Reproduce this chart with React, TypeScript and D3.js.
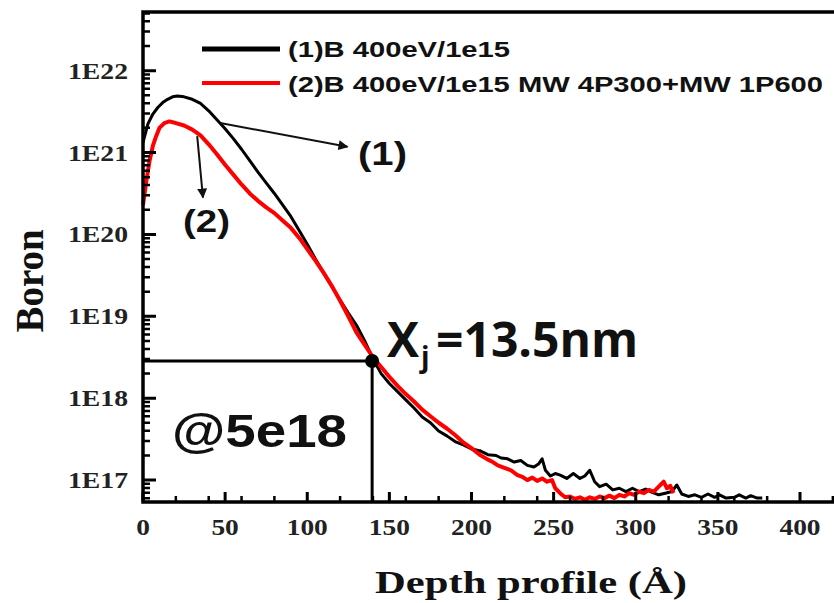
import React from "react";
import { scaleLinear, scaleLog, line } from "d3";

// depth (Å), log10 boron concentration
const blackProfile: [number, number][] = [
  [0, 21.12], [3, 21.35], [6, 21.47], [9, 21.55], [12, 21.61], [15, 21.65], [18, 21.68], [21, 21.69],
  [25, 21.68], [30, 21.65], [35, 21.6], [40, 21.51], [45, 21.4], [50, 21.29], [55, 21.17], [60, 21.04],
  [65, 20.9], [70, 20.76], [75, 20.63], [80, 20.5], [85, 20.36], [90, 20.22], [95, 20.05], [100, 19.88],
  [105, 19.7], [110, 19.53], [115, 19.36], [120, 19.2], [125, 19.04], [130, 18.89], [135, 18.7], [140, 18.48],
  [145, 18.3], [150, 18.18], [155, 18.08], [160, 17.98], [165, 17.88], [170, 17.77], [175, 17.7], [180, 17.6],
  [185, 17.54], [190, 17.47], [195, 17.43], [200, 17.38], [205, 17.36], [210, 17.31], [215, 17.3], [218, 17.27],
  [222, 17.26], [226, 17.22], [230, 17.24], [234, 17.18], [238, 17.16], [241, 17.2], [243, 17.26], [245, 17.12],
  [248, 17.05], [251, 17.08], [254, 17.06], [258, 17.02], [262, 17.08], [266, 17.02], [269, 17.05], [272, 17.12],
  [275, 16.98], [278, 16.92], [282, 16.95], [286, 16.88], [290, 16.9], [294, 16.86], [298, 16.9], [302, 16.86],
  [306, 16.89], [310, 16.85], [314, 16.82], [318, 16.84], [322, 16.86], [325, 16.94], [328, 16.83], [332, 16.8],
  [336, 16.82], [340, 16.79], [344, 16.83], [348, 16.79], [351, 16.82], [355, 16.78], [360, 16.79], [363, 16.82],
  [367, 16.78], [370, 16.81], [374, 16.78], [377, 16.78],
];

const redProfile: [number, number][] = [
  [0, 20.36], [2, 20.65], [4, 20.9], [6, 21.08], [8, 21.2], [10, 21.3], [13, 21.36], [16, 21.38],
  [20, 21.36], [25, 21.33], [30, 21.28], [35, 21.21], [40, 21.1], [45, 20.98], [50, 20.85], [55, 20.73],
  [60, 20.61], [65, 20.5], [70, 20.41], [75, 20.33], [80, 20.26], [85, 20.17], [90, 20.08], [95, 19.96],
  [100, 19.82], [105, 19.68], [110, 19.53], [115, 19.37], [120, 19.19], [125, 19.0], [130, 18.8], [135, 18.65],
  [140, 18.5], [145, 18.38], [150, 18.26], [155, 18.15], [160, 18.05], [165, 17.96], [170, 17.86], [175, 17.78],
  [180, 17.7], [185, 17.63], [190, 17.55], [195, 17.46], [200, 17.39], [205, 17.31], [210, 17.25], [213, 17.22],
  [216, 17.18], [220, 17.15], [224, 17.12], [228, 17.06], [231, 17.04], [234, 17.0], [237, 17.03], [240, 16.99],
  [243, 17.02], [246, 16.98], [249, 17.0], [251, 16.9], [254, 16.84], [257, 16.79], [260, 16.8], [263, 16.77],
  [266, 16.79], [269, 16.76], [272, 16.79], [275, 16.77], [278, 16.8], [281, 16.78], [284, 16.81], [287, 16.78],
  [290, 16.82], [293, 16.8], [296, 16.84], [299, 16.82], [302, 16.86], [305, 16.84], [308, 16.88], [311, 16.86],
  [314, 16.92], [317, 16.98], [319, 16.9], [321, 16.93], [323, 16.84],
];

const legendLabels = ["(1)B 400eV/1e15", "(2)B 400eV/1e15 MW 4P300+MW 1P600"];
const xTickValues = [0, 50, 100, 150, 200, 250, 300, 350, 400];
const yTickExps = [17, 18, 19, 20, 21, 22];

// junction depth marker
const junctionDepth = 139.5;
const junctionConc = 2.85e18;

const W = 834;
const H = 603;

const serif = "'Liberation Serif', 'Times New Roman', serif";
const sans = "'Liberation Sans', Arial, sans-serif";
const calib = "'Open Sans', sans-serif";

export default function App() {
  const x = scaleLinear().domain([0, 425]).range([143, 143 + 425 * 1.6425]);
  const y = scaleLog().domain([5.4e16, 5.2e22]).range([502, 12]);

  const path = line<[number, number]>()
    .x((d) => x(d[0]))
    .y((d) => y(Math.pow(10, d[1])));

  const left = x(0);
  const bottom = y.range()[0];
  const top = y.range()[1];

  const yAll = y.ticks();
  const isMajor = (v: number) => Math.abs(Math.log10(v) - Math.round(Math.log10(v))) < 1e-6;
  const xMinor = x.ticks(17).filter((v) => v % 50 !== 0);

  // tick marks as single paths, pointing inward
  const yMajorPath = yAll.filter(isMajor).map((v) => `M${left},${y(v)}h13`).join("");
  const yMinorPath = yAll.filter((v) => !isMajor(v)).map((v) => `M${left},${y(v)}h7`).join("");
  const xMajorPath = xTickValues.map((v) => `M${x(v)},${bottom}v-10`).join("");
  const xMinorPath = xMinor.map((v) => `M${x(v)},${bottom}v-6`).join("");

  const jx = x(junctionDepth);
  const jy = y(junctionConc);

  return (
    <svg width={W} height={H} style={{ position: "absolute", left: 0, top: 0, background: "#fff" }}>
      <defs>
        <marker id="ah" viewBox="0 0 10 10" refX="9" refY="5" markerWidth="5" markerHeight="5" orient="auto">
          <path d="M0,0 L10,5 L0,10 z" fill="#111" />
        </marker>
      </defs>

      {/* curves */}
      <path d={path(blackProfile) || ""} fill="none" stroke="#000" strokeWidth={3} strokeLinejoin="round" />
      <path d={path(redProfile) || ""} fill="none" stroke="#f00" strokeWidth={4} strokeLinejoin="round" />

      {/* Xj guides */}
      <line x1={left} x2={jx} y1={jy} y2={jy} stroke="#000" strokeWidth={3} />
      <line x1={jx} x2={jx} y1={jy} y2={bottom} stroke="#000" strokeWidth={3} />
      <circle cx={jx} cy={jy} r={7} fill="#000" />

      {/* frame */}
      <path d={`M${W + 10},${top}H${left}V${bottom}H${W + 10}`} fill="none" stroke="#000" strokeWidth={3.5} />

      <path d={yMajorPath} stroke="#000" strokeWidth={3} fill="none" />
      <path d={yMinorPath} stroke="#000" strokeWidth={2.5} fill="none" />
      <path d={xMajorPath} stroke="#000" strokeWidth={3} fill="none" />
      <path d={xMinorPath} stroke="#000" strokeWidth={2.5} fill="none" />

      {yTickExps.map((e) => (
        <text key={"yl" + e} x={128} y={y(Math.pow(10, e))} dy="0.35em" textAnchor="end"
          fontFamily={serif} fontWeight="bold" fontSize={23} textLength={60} lengthAdjust="spacingAndGlyphs" fill="#222">
          {"1E" + e}
        </text>
      ))}
      {xTickValues.map((v) => (
        <text key={"xl" + v} x={x(v)} y={535} textAnchor="middle" fontFamily={serif} fontWeight="bold" fontSize={24}
          textLength={String(v).length * 13.7} lengthAdjust="spacingAndGlyphs" fill="#222">
          {v}
        </text>
      ))}

      {/* axis titles */}
      <text x={375} y={593} fontFamily={serif} fontWeight="bold" fontSize={32} textLength={312} lengthAdjust="spacingAndGlyphs" fill="#111">
        Depth profile (Å)
      </text>
      <text transform="translate(43,281) scale(1.2,1) rotate(-90)" textAnchor="middle" fontFamily={serif} fontWeight="bold"
        fontSize={34} textLength={103} lengthAdjust="spacingAndGlyphs" fill="#111">
        Boron
      </text>

      {/* legend */}
      <line x1={202} x2={280} y1={49} y2={49} stroke="#000" strokeWidth={5} />
      <line x1={202} x2={280} y1={83} y2={83} stroke="#f00" strokeWidth={4} />
      <text x={288} y={57} fontFamily={sans} fontWeight="bold" fontSize={22} textLength={222} lengthAdjust="spacingAndGlyphs" fill="#111">
        {legendLabels[0]}
      </text>
      <text x={288} y={92} fontFamily={sans} fontWeight="bold" fontSize={22} textLength={535} lengthAdjust="spacingAndGlyphs" fill="#111">
        {legendLabels[1]}
      </text>

      {/* curve callouts */}
      <line x1={x(47)} y1={y(Math.pow(10, 21.36))} x2={x(124.5)} y2={y(Math.pow(10, 21.07))} stroke="#111" strokeWidth={2} markerEnd="url(#ah)" />
      <text x={358} y={165} fontFamily={sans} fontWeight="bold" fontSize={34} textLength={49} lengthAdjust="spacingAndGlyphs" fill="#111">(1)</text>
      <line x1={x(33)} y1={y(Math.pow(10, 21.2))} x2={x(36.5)} y2={y(Math.pow(10, 20.45))} stroke="#111" strokeWidth={2} markerEnd="url(#ah)" />
      <text x={183} y={232} fontFamily={sans} fontWeight="bold" fontSize={32} textLength={47} lengthAdjust="spacingAndGlyphs" fill="#111">(2)</text>

      {/* Xj annotation */}
      <text y={357} fontFamily={calib} fontWeight="bold" fontSize={48} fill="#111">
        <tspan x={387}>X</tspan>
        <tspan x={421} y={367} fontSize={28}>j</tspan>
        <tspan x={436} y={357}>=13.5nm</tspan>
      </text>

      <text x={172} y={447} fontFamily={sans} fontWeight="bold" fontSize={46} textLength={175} lengthAdjust="spacingAndGlyphs" fill="#111">@5e18</text>
    </svg>
  );
}
